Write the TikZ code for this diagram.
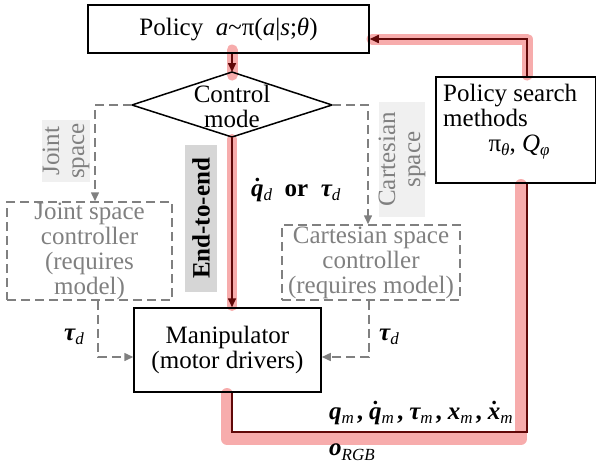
\documentclass[tikz,border=0pt]{standalone}
\usepackage{fontspec}
\setmainfont{Liberation Serif}
\usetikzlibrary{arrows.meta}
\definecolor{dred}{RGB}{96,8,8}
\definecolor{pinkband}{RGB}{247,172,172}
\definecolor{gline}{RGB}{128,128,128}
\definecolor{gtext}{RGB}{128,128,128}
\definecolor{lbg}{RGB}{240,240,240}
\definecolor{ebg}{RGB}{214,214,214}
\newcommand\bi[1]{{\bfseries\itshape #1}}
\newcommand\sbs[1]{\raisebox{-0.4ex}{\fontsize{17}{17}\selectfont\mdseries\itshape #1}}
\newcommand\dq[1]{{\boldmath$\dot{\hbox{\bfseries\itshape #1}}$}}
\newcommand\cm{\hspace{3pt}\textbf{,}\hspace{6pt}}
\tikzset{
  box/.style={draw, line width=1.5pt, inner sep=0pt, align=center},
  gbox/.style={draw=gline, dash pattern=on 9pt off 5pt, line width=1.5pt, text=gtext, inner sep=0pt, align=center},
  gflow/.style={draw=gline, dash pattern=on 9pt off 5pt, line width=1.5pt, -{Triangle[length=9pt,width=8pt]}},
  rflow/.style={draw=dred, line width=1.6pt, -{Triangle[length=9pt,width=8pt]}},
  rline/.style={draw=dred, line width=1.6pt},
  band/.style={draw=pinkband, line width=11pt, line cap=round, line join=round},
  lab/.style={inner sep=0pt},
}
\begin{document}
\begin{tikzpicture}[x=1pt,y=-1pt,font=\fontsize{25}{25}\selectfont]
\useasboundingbox (0,0) rectangle (597,464);
% bands
\draw[band] (232,50) -- (232,75);
\draw[band,line width=10pt] (232,139) -- (232,306);
\draw[band,line width=12pt] (227,394) -- (227,439) -- (521,439) -- (521,185);
\draw[band] (527,75) -- (527,39) -- (372,39);
% labels with backgrounds
\node[fill=ebg, text=black, font=\fontsize{25}{25}\selectfont\bfseries, rotate=90, minimum width=147pt, minimum height=32pt, inner sep=0pt] (e2e) at (201,218.5) {End-to-end};
\node[fill=lbg, text=gtext, rotate=90, minimum width=62pt, minimum height=48pt, inner sep=0pt, align=center] (jlab) at (66,151) {Joint\\space};
\node[fill=lbg, text=gtext, rotate=90, minimum width=115pt, minimum height=46pt, inner sep=0pt, align=center] (clab) at (402,159.5) {Cartesian\\space};
% boxes
\node[box, minimum width=281pt, minimum height=48pt] (policy) at (228.5,29) {Policy\ \ \textit{a}\textasciitilde π(\textit{a}|\textit{s};\textit{θ})};
\coordinate (dtop) at (232,72);
\coordinate (dbot) at (232,137);
\coordinate (dleft) at (132,105);
\coordinate (dright) at (332,105);
\draw[line width=1.5pt, line join=miter] (dtop) -- (dright) -- (dbot) -- (dleft) -- cycle;
\node[lab, align=center] (mode) at (232,106) {Control\\mode};
\node[box, minimum width=159.5pt, minimum height=106pt] (search) at (515.75,130) {};
\node[lab, anchor=west, align=left] (stext) at (443,105.5) {Policy search\\methods};
\node[lab] (pq) at (519,147) {π\sbs{θ}, \textit{Q}\sbs{φ}};
\node[gbox, minimum width=165pt, minimum height=98pt] (jc) at (89.5,251) {Joint space\\controller\\(requires\\model)};
\node[gbox, minimum width=178pt, minimum height=75pt] (cc) at (371,262.5) {Cartesian space\\controller\\(requires model)};
\node[box, minimum width=187pt, minimum height=84pt] (manip) at (227.5,350) {Manipulator\\(motor drivers)};
% text labels
\node[lab, anchor=west] (qd) at (251,190) {\dq{q}\sbs{d}\ \ \textbf{or}\ \ \bi{τ}\sbs{d}};
\node[lab] (tl) at (74,337) {\bi{τ}\sbs{d}};
\node[lab, anchor=west] (tr) at (379,337) {\bi{τ}\sbs{d}};
\node[lab, anchor=west] (meas) at (329,413) {\bi{q}\sbs{m}\cm\dq{q}\sbs{m}\cm\bi{τ}\sbs{m}\cm\bi{x}\sbs{m}\cm\dq{x}\sbs{m}};
\node[lab, anchor=west] (orgb) at (329,452) {\bi{o}\sbs{RGB}};
% red connectors
\coordinate (c1) at (232,432);
\coordinate (c2) at (527,432);
\coordinate (c3) at (527,39);
\draw[rflow] (policy.south -| dtop) -- (dtop);
\draw[rflow] (dbot) -- (manip.north -| dbot);
\draw[rline] (manip.south -| c1) -- (c1) -- (c2) -- (search.south -| c2);
\draw[rflow] (search.north -| c3) -- (c3) -- (policy.east |- c3);
% grey connectors
\coordinate (jl) at (95,105);
\coordinate (cr) at (368,105);
\coordinate (jb) at (98,357);
\coordinate (cb) at (369,357);
\draw[gflow] (dleft) -- (jl) -- (jl |- jc.north);
\draw[gflow] (dright) -- (cr) -- (cr |- cc.north);
\draw[gflow] (jc.south -| jb) -- (jb) -- (manip.west |- jb);
\draw[gflow] (cc.south -| cb) -- (cb) -- (manip.east |- cb);
\end{tikzpicture}
\end{document}
